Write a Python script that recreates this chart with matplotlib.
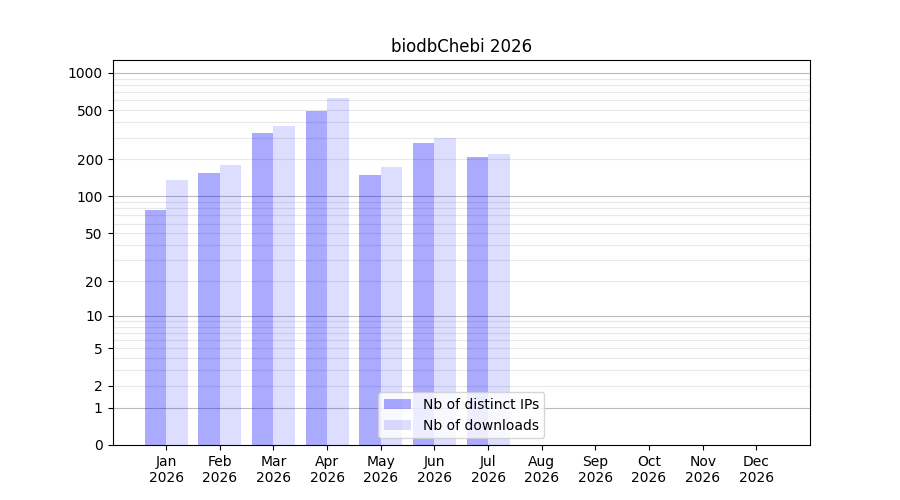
import numpy as np
import matplotlib
matplotlib.use("Agg")
import matplotlib.pyplot as plt
from matplotlib.ticker import FixedLocator, FixedFormatter

months = ["Jan", "Feb", "Mar", "Apr", "May", "Jun", "Jul", "Aug", "Sep", "Oct", "Nov", "Dec"]
year = "2026"
ips = [78, 156, 328, 495, 148, 273, 210, 0, 0, 0, 0, 0]
downloads = [137, 181, 375, 630, 172, 300, 222, 0, 0, 0, 0, 0]

fig, ax = plt.subplots(figsize=(9, 5), dpi=100)

def fwd(x):
    return np.log10(1 + np.clip(x, 0, None))

def inv(y):
    return 10 ** y - 1

ax.set_yscale("function", functions=(fwd, inv))

x = np.arange(1, 13)
w = 0.4
ax.bar(x - w / 2, ips, width=w, color=(0, 0, 1, 1 / 3), label="Nb of distinct IPs", zorder=2)
ax.bar(x + w / 2, downloads, width=w, color=(0, 0, 1, 0.133), label="Nb of downloads", zorder=2)

ax.set_xlim(0, 13)
ax.set_ylim(0, 1270)
ax.set_xticks(x)
ax.set_xticklabels([f"{m}\n{year}" for m in months])

major = [0, 1, 2, 5, 10, 20, 50, 100, 200, 500, 1000]
ax.yaxis.set_major_locator(FixedLocator(major))
ax.yaxis.set_major_formatter(FixedFormatter([str(v) for v in major]))
minor = [v * d for d in (1, 10, 100) for v in range(2, 10)]
ax.yaxis.set_minor_locator(FixedLocator(minor))
ax.tick_params(axis="y", which="minor", length=0)

for v in minor:
    ax.axhline(v, color="#e8e8e8", lw=0.8, zorder=1)
for v in (1, 10, 100, 1000):
    ax.axhline(v, color="#bbbbbb", lw=0.8, zorder=1)

ax.set_title("biodbChebi 2026")
ax.legend(loc="lower center")
fig.savefig("out.png")
